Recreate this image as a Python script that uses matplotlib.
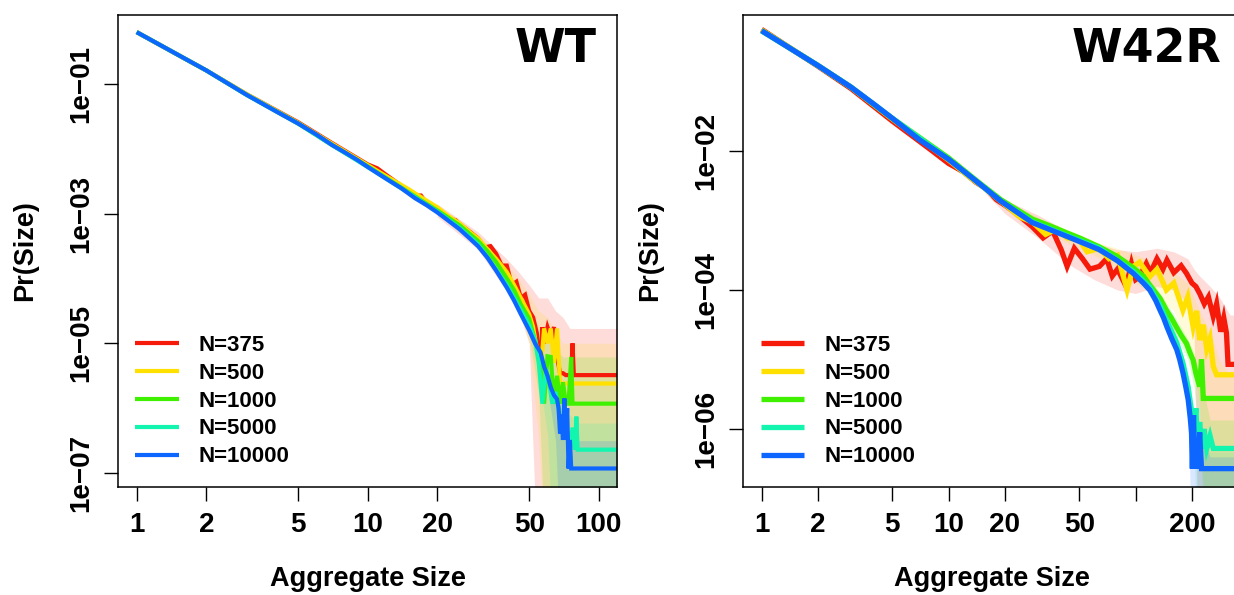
import numpy as np
import matplotlib
matplotlib.use('Agg')  # headless
import matplotlib.pyplot as plt

plt.rcParams['font.family'] = ['Liberation Sans', 'DejaVu Sans']
plt.rcParams['font.weight'] = 'bold'

labels = ['N=375', 'N=500', 'N=1000', 'N=5000', 'N=10000']
colors = ['#F51A0A', '#FFE000', '#3FF000', '#12F5AE', '#0D66FF']

# ---------------- WT panel, values are log10 Pr(Size) ----------------
wt_x375 = [1, 2, 3, 5, 7, 10, 11, 12, 14, 16, 17, 18, 20, 22, 24, 25, 27, 30, 32, 34, 36, 38, 40, 42, 44, 46,
           48, 50, 52, 54, 56, 57, 58, 60, 62, 64, 66, 68, 70, 72, 74, 76, 77, 78, 130]
wt_y375 = [-0.20, -0.79, -1.16, -1.59, -1.91, -2.24, -2.30, -2.40, -2.57, -2.72, -2.72, -2.84, -2.95, -3.06,
           -3.10, -3.16, -3.25, -3.38, -3.52, -3.50, -3.62, -3.80, -3.80, -4.10, -4.05, -4.30, -4.25, -4.50,
           -4.60, -4.85, -5.46, -4.75, -5.00, -4.75, -4.90, -4.75, -5.21, -5.46, -5.46, -5.49, -5.49, -5.49,
           -5.00, -5.49, -5.49]
wt_x500 = [1, 2, 3, 5, 7, 10, 12, 15, 18, 20, 22, 25, 28, 30, 33, 36, 40, 43, 46, 50, 52, 54, 56, 58, 60, 62,
           64, 66, 68, 70, 130]
wt_y500 = [-0.20, -0.79, -1.16, -1.60, -1.92, -2.25, -2.42, -2.62, -2.80, -2.90, -3.02, -3.15, -3.30, -3.38,
           -3.55, -3.70, -3.90, -4.10, -4.30, -4.55, -4.75, -5.10, -5.45, -4.77, -5.00, -4.77, -5.30, -4.77,
           -5.62, -5.62, -5.62]
wt_x1000 = [1, 2, 3, 5, 7, 10, 14, 18, 20, 25, 30, 33, 36, 40, 43, 46, 50, 52, 54, 56, 58, 60, 62, 64, 66, 68,
            70, 72, 74, 76, 77, 130]
wt_y1000 = [-0.20, -0.79, -1.17, -1.61, -1.94, -2.27, -2.60, -2.85, -2.95, -3.18, -3.42, -3.58, -3.75, -4.00,
            -4.18, -4.40, -4.62, -4.85, -5.05, -5.30, -5.93, -5.20, -5.21, -5.93, -5.50, -5.93, -5.60, -5.93,
            -5.93, -5.21, -5.93, -5.93]
wt_x5000 = [1, 2, 3, 5, 7, 10, 14, 20, 25, 30, 35, 40, 45, 50, 53, 55, 57, 59, 61, 63, 65, 67, 69, 71, 73, 75,
            77, 79, 80, 81, 130]
wt_y5000 = [-0.20, -0.79, -1.17, -1.61, -1.94, -2.28, -2.61, -2.97, -3.22, -3.47, -3.80, -4.10, -4.42, -4.72,
            -4.95, -5.30, -5.93, -5.40, -5.60, -5.93, -5.75, -6.00, -6.30, -6.15, -6.40, -6.64, -6.30, -6.64,
            -6.13, -6.64, -6.64]
wt_x10000 = [1, 2, 3, 4, 5, 6, 7, 8, 9, 10, 12, 14, 16, 18, 20, 22, 25, 28, 30, 33, 36, 40, 43, 46, 50, 53, 56,
             58, 60, 62, 64, 66, 67, 68, 69, 70, 71, 72, 73, 74, 75, 76, 130]
wt_y10000 = [-0.20, -0.79, -1.17, -1.42, -1.61, -1.78, -1.94, -2.06, -2.17, -2.28, -2.46, -2.61, -2.76, -2.87,
             -2.98, -3.09, -3.24, -3.40, -3.50, -3.68, -3.88, -4.14, -4.34, -4.55, -4.80, -5.00, -5.14, -5.36,
             -5.50, -5.68, -5.80, -5.86, -6.00, -6.39, -6.10, -6.49, -5.85, -6.49, -6.00, -6.93, -6.49, -6.93,
             -6.93]

# confidence bands (log10), -9 means the lower bound is off the axis
wt_band_x = [20, 30, 40, 45, 50, 55, 60, 65, 70, 75, 80, 130]
wt_hi375 = [-2.85, -3.28, -3.70, -3.90, -4.10, -4.30, -4.30, -4.50, -4.60, -4.77, -4.77, -4.77]
wt_lo375 = [-3.05, -3.55, -4.20, -4.50, -5.00, -9, -9, -9, -9, -9, -9, -9]
wt_hi500 = [-2.88, -3.32, -3.78, -4.00, -4.25, -4.50, -4.60, -4.80, -5.00, -5.00, -5.00, -5.00]
wt_lo500 = [-2.95, -3.45, -4.10, -4.50, -5.00, -6.50, -9, -9, -9, -9, -9, -9]
wt_hi1000 = [-2.92, -3.38, -3.88, -4.15, -4.45, -4.75, -4.90, -5.10, -5.21, -5.21, -5.21, -5.21]
wt_lo1000 = [-2.98, -3.48, -4.12, -4.45, -4.90, -5.80, -9, -9, -9, -9, -9, -9]
wt_hi5000 = [-2.95, -3.44, -4.05, -4.35, -4.65, -5.00, -5.30, -5.60, -5.90, -6.10, -6.23, -6.23]
wt_lo5000 = [-3.00, -3.52, -4.15, -4.50, -4.80, -5.50, -6.40, -9, -9, -9, -9, -9]
wt_hi10000 = [-2.96, -3.47, -4.10, -4.45, -4.75, -5.05, -5.40, -5.70, -6.00, -6.40, -6.50, -6.50]
wt_lo10000 = [-3.00, -3.53, -4.18, -4.55, -4.85, -5.20, -5.70, -6.50, -9, -9, -9, -9]

# ---------------- W42R panel, values are log10 Pr(Size) ----------------
w42_x375 = [1, 2, 3, 5, 8, 10, 12, 14, 16, 18, 20, 22, 25, 28, 32, 36, 40, 43, 47, 52, 57, 64, 70, 75, 80, 89,
            95, 100, 105, 110, 114, 120, 130, 140, 147, 160, 175, 187, 200, 210, 220, 233, 245, 260, 271, 285,
            296, 306, 312, 500]
w42_y375 = [-0.25, -0.78, -1.10, -1.57, -1.98, -2.18, -2.30, -2.45, -2.55, -2.70, -2.78, -2.86, -2.98, -3.09,
            -3.25, -3.15, -3.42, -3.66, -3.40, -3.55, -3.70, -3.66, -3.55, -3.80, -3.70, -3.95, -3.62, -3.85,
            -3.81, -3.70, -3.62, -3.75, -3.55, -3.70, -3.57, -3.75, -3.65, -3.76, -3.90, -3.95, -4.05, -4.20,
            -4.10, -4.38, -4.20, -4.60, -4.40, -4.62, -5.07, -5.07]
w42_x500 = [1, 2, 3, 5, 10, 13, 15, 19, 24, 28, 33, 38, 43, 50, 55, 64, 72, 80, 90, 97, 105, 119, 130, 146,
            160, 179, 190, 203, 212, 220, 230, 240, 250, 260, 271, 500]
w42_y500 = [-0.26, -0.77, -1.08, -1.54, -2.13, -2.38, -2.50, -2.72, -2.95, -3.02, -3.20, -3.12, -3.25, -3.28,
            -3.45, -3.40, -3.55, -3.50, -4.00, -3.66, -3.60, -3.81, -3.70, -4.00, -3.90, -4.29, -4.10, -4.53,
            -4.30, -4.72, -4.50, -4.85, -4.70, -5.10, -5.22, -5.22]
w42_x1000 = [1, 2, 3, 5, 10, 14, 19, 28, 35, 43, 50, 64, 80, 97, 110, 119, 135, 146, 155, 165, 175, 187, 195,
             203, 210, 220, 225, 230, 240, 500]
w42_y1000 = [-0.27, -0.77, -1.08, -1.53, -2.10, -2.42, -2.70, -2.98, -3.08, -3.18, -3.25, -3.38, -3.52, -3.68,
             -3.80, -3.93, -4.12, -4.29, -4.40, -4.53, -4.65, -4.77, -4.90, -5.01, -5.20, -5.39, -5.00, -5.56,
             -5.56, -5.56]
w42_x5000 = [1, 2, 3, 5, 10, 14, 19, 28, 43, 64, 97, 119, 135, 147, 166, 179, 191, 199, 205, 210, 215, 220,
             226, 232, 240, 250, 260, 500]
w42_y5000 = [-0.27, -0.77, -1.08, -1.53, -2.12, -2.43, -2.72, -3.02, -3.22, -3.40, -3.73, -3.96, -4.22, -4.45,
             -4.76, -5.05, -5.40, -5.75, -6.00, -5.70, -6.28, -5.90, -6.28, -6.00, -6.28, -6.10, -6.28, -6.28]
w42_x10000 = [1, 2, 3, 4, 5, 7, 10, 14, 19, 28, 43, 64, 80, 97, 110, 119, 128, 135, 141, 147, 156, 166, 172,
              179, 185, 191, 196, 199, 201, 204, 207, 210, 215, 220, 225, 230, 500]
w42_y10000 = [-0.27, -0.77, -1.08, -1.33, -1.53, -1.84, -2.12, -2.43, -2.72, -3.03, -3.23, -3.42, -3.58, -3.76,
              -3.90, -4.00, -4.15, -4.29, -4.40, -4.53, -4.70, -4.86, -5.00, -5.19, -5.38, -5.58, -5.85, -6.06,
              -6.57, -5.80, -6.57, -6.20, -6.57, -6.05, -6.57, -6.57, -6.57]

w42_band_x = [15, 20, 30, 45, 60, 80, 100, 130, 160, 190, 205, 220, 250, 280, 320, 500]
w42_hi375 = [-2.50, -2.70, -2.92, -3.18, -3.32, -3.42, -3.45, -3.40, -3.45, -3.55, -3.70, -3.80, -3.95, -4.10,
             -4.36, -4.36]
w42_lo375 = [-2.55, -2.90, -3.25, -3.65, -3.85, -4.00, -4.05, -3.95, -4.00, -4.20, -4.50, -9, -9, -9, -9, -9]
w42_hi500 = [-2.45, -2.72, -2.95, -3.15, -3.30, -3.40, -3.50, -3.60, -3.75, -3.90, -4.10, -4.30, -4.60, -5.00,
             -5.25, -5.25]
w42_lo500 = [-2.50, -2.80, -3.10, -3.35, -3.50, -3.70, -3.90, -4.10, -4.30, -4.80, -5.20, -5.60, -9, -9, -9, -9]
w42_hi1000 = [-2.45, -2.70, -2.96, -3.16, -3.33, -3.48, -3.62, -3.98, -4.35, -4.70, -4.90, -5.20, -5.87, -5.87,
              -5.87, -5.87]
w42_lo1000 = [-2.48, -2.78, -3.03, -3.22, -3.42, -3.60, -3.76, -4.15, -4.60, -5.00, -5.40, -6.10, -9, -9, -9, -9]
w42_hi5000 = [-2.46, -2.72, -2.99, -3.19, -3.36, -3.52, -3.70, -4.05, -4.55, -5.20, -5.70, -6.00, -6.33, -6.33,
              -6.33, -6.33]
w42_lo5000 = [-2.48, -2.76, -3.04, -3.24, -3.42, -3.60, -3.80, -4.20, -4.75, -5.50, -6.20, -9, -9, -9, -9, -9]
w42_hi10000 = [-2.46, -2.73, -3.00, -3.20, -3.38, -3.55, -3.72, -4.10, -4.60, -5.35, -5.80, -6.00, -6.40, -6.40,
               -6.40, -6.40]
w42_lo10000 = [-2.48, -2.76, -3.04, -3.24, -3.43, -3.60, -3.80, -4.20, -4.75, -5.55, -9, -9, -9, -9, -9, -9]

wt_xticks = [1, 2, 5, 10, 20, 50, 100]
wt_xticklabels = ['1', '2', '5', '10', '20', '50', '100']
wt_yticks = [1e-1, 1e-3, 1e-5, 1e-7]
w42_xticks = [1, 2, 5, 10, 20, 50, 100, 200]
w42_xticklabels = ['1', '2', '5', '10', '20', '50', '', '200']
w42_yticks = [1e-2, 1e-4, 1e-6]


def draw_panel(ax, xs, ys, band_x, his, los, lw, xlim, ylim, xticks, xticklabels, yticks, title):
    for hi, lo, c in zip(his, los, colors):
        ax.fill_between(band_x, 10.0 ** np.array(lo), 10.0 ** np.array(hi),
                        color=c, alpha=0.15, lw=0)
    for x, y, c, lab in zip(xs, ys, colors, labels):
        ax.plot(x, 10.0 ** np.array(y), color=c, lw=lw, label=lab,
                solid_joinstyle='miter', solid_capstyle='butt')
    ax.set_xscale('log')
    ax.set_yscale('log')
    ax.set_xlim(xlim)
    ax.set_ylim(ylim)
    ax.set_xticks(xticks)
    ax.set_xticklabels(xticklabels)
    ax.set_yticks(yticks)
    ax.set_yticklabels(['1e\u2212%02d' % round(-np.log10(t)) for t in yticks],
                       rotation=90, va='center')
    ax.minorticks_off()
    ax.tick_params(axis='both', length=10, width=1.0, labelsize=20, direction='out')
    ax.tick_params(axis='x', pad=8)
    ax.tick_params(axis='y', pad=7)
    for s in ax.spines.values():
        s.set_linewidth(1.1)
    ax.text(-0.187, 0.5, 'Pr(Size)', transform=ax.transAxes, rotation=90,
            ha='center', va='center', fontsize=19.5)
    ax.text(0.5, -0.195, 'Aggregate Size', transform=ax.transAxes,
            ha='center', va='center', fontsize=19.5)
    ax.text(0.96, 0.927, title, transform=ax.transAxes, ha='right', va='center',
            fontsize=33, family='DejaVu Sans', fontweight='bold')
    ax.legend(loc='lower left', bbox_to_anchor=(0.035, 0.041), frameon=False,
              fontsize=16, handlelength=1.95, handletextpad=0.9, labelspacing=0.31,
              borderpad=0, borderaxespad=0)


fig = plt.figure(figsize=(12.34, 5.95), dpi=100)
ax1 = fig.add_axes([118 / 1234, 108.3 / 595, 499 / 1234, 472 / 595])
ax2 = fig.add_axes([743.3 / 1234, 108.3 / 595, 498 / 1234, 472 / 595])

draw_panel(ax1,
           [wt_x375, wt_x500, wt_x1000, wt_x5000, wt_x10000],
           [wt_y375, wt_y500, wt_y1000, wt_y5000, wt_y10000],
           wt_band_x,
           [wt_hi375, wt_hi500, wt_hi1000, wt_hi5000, wt_hi10000],
           [wt_lo375, wt_lo500, wt_lo1000, wt_lo5000, wt_lo10000],
           3.0, (10 ** -0.081, 10 ** 2.079), (10 ** -7.211, 10 ** 0.069),
           wt_xticks, wt_xticklabels, wt_yticks, 'WT')

draw_panel(ax2,
           [w42_x375, w42_x500, w42_x1000, w42_x5000, w42_x10000],
           [w42_y375, w42_y500, w42_y1000, w42_y5000, w42_y10000],
           w42_band_x,
           [w42_hi375, w42_hi500, w42_hi1000, w42_hi5000, w42_hi10000],
           [w42_lo375, w42_lo500, w42_lo1000, w42_lo5000, w42_lo10000],
           3.8, (10 ** -0.098, 10 ** 2.565), (10 ** -6.830, 10 ** -0.039),
           w42_xticks, w42_xticklabels, w42_yticks, 'W42R')

fig.savefig('out.png', dpi=100)
